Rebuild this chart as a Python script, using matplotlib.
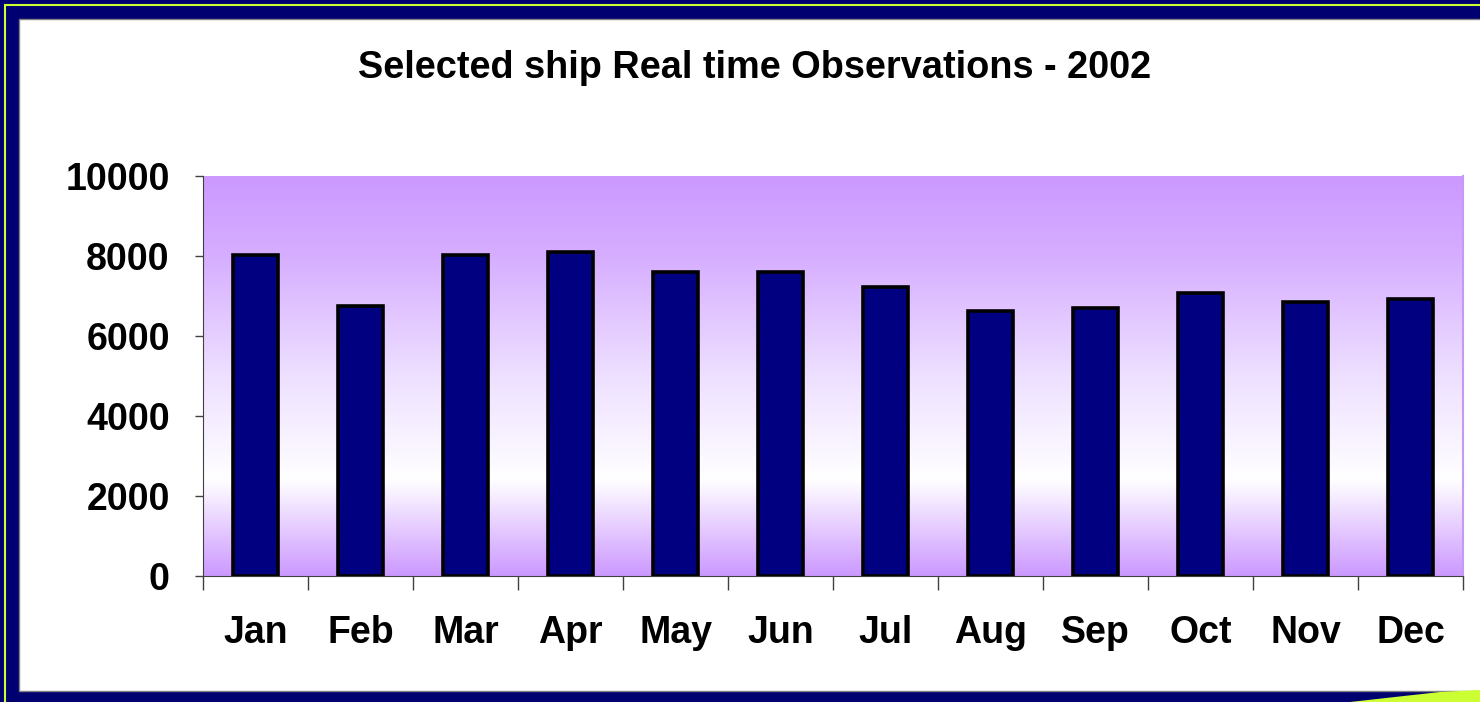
import matplotlib.pyplot as plt
import numpy as np
from matplotlib.colors import LinearSegmentedColormap
from matplotlib.patches import Rectangle, Polygon

months = ['Jan', 'Feb', 'Mar', 'Apr', 'May', 'Jun',
          'Jul', 'Aug', 'Sep', 'Oct', 'Nov', 'Dec']
observations = [8030, 6760, 8030, 8110, 7600, 7590,
                7220, 6620, 6690, 7070, 6840, 6920]
y_ticks = [0, 2000, 4000, 6000, 8000, 10000]

plt.rcParams['font.family'] = ['Liberation Sans', 'DejaVu Sans']
plt.rcParams['font.weight'] = 'bold'

navy = '#000070'
fig = plt.figure(figsize=(14.8, 7.02), dpi=100, facecolor=navy)

# slide-style frame: yellow line, white panel, swoosh at the bottom right
W, H = 1480, 702
fig.patches.append(Rectangle((5 / W, -0.1), 1.2, 1.1 - 5 / H, transform=fig.transFigure,
                             fill=False, edgecolor='#CCFF33', linewidth=1.5, zorder=-3))
fig.patches.append(Rectangle((19 / W, 11 / H), 1.2, 1 - 30 / H, transform=fig.transFigure,
                             facecolor='white', edgecolor='#808080', linewidth=1, zorder=-2))
swoosh = [(1350 / W, 0), (1480 / W, 0), (1480 / W, 12 / H), (1440 / W, 10 / H)]
fig.patches.append(Polygon(swoosh, closed=True, transform=fig.transFigure,
                           facecolor='#CCFF33', edgecolor='none', zorder=-1))

ax = fig.add_axes([203 / W, 126 / H, 1260 / W, 400 / H])
ax.set_facecolor('none')

# purple-white-purple background gradient
cmap = LinearSegmentedColormap.from_list('bg', [
    (0.0, '#CC99FF'), (0.12, '#E6CCFF'), (0.24, '#FFFFFF'),
    (0.5, '#EEE0FF'), (0.8, '#D6AEFF'), (1.0, '#CC99FF')])
grad = np.linspace(0, 1, 256).reshape(-1, 1)
ax.imshow(grad, cmap=cmap, origin='lower', extent=[0, 1, 0, 1],
          transform=ax.transAxes, aspect='auto', zorder=0)

x = np.arange(len(months))
ax.bar(x, observations, width=0.42, color='#000080', edgecolor='black',
       linewidth=2.6, zorder=2)

ax.set_xlim(-0.5, len(months) - 0.5)
ax.set_ylim(0, 10000)
ax.set_yticks(y_ticks)
ax.set_yticklabels([str(v) for v in y_ticks], fontsize=27, fontweight='bold')
ax.set_xticks(x)
ax.set_xticklabels(months, fontsize=27, fontweight='bold')
ax.set_xticks(np.arange(-0.5, len(months)), minor=True)
ax.tick_params(axis='x', which='major', length=0, pad=28)
ax.tick_params(axis='x', which='minor', length=10, width=1, color='#404040', direction='out')
ax.tick_params(axis='y', length=6, width=1, color='#404040', pad=18)

ax.spines['top'].set_visible(False)
ax.spines['right'].set_color('#C49AF5')
ax.spines['right'].set_linewidth(1.5)
ax.spines['left'].set_color('#404040')
ax.spines['bottom'].set_color('#404040')

fig.text(755 / W, 1 - 68 / H, 'Selected ship Real time Observations - 2002',
         ha='center', va='center', fontsize=27.3, fontweight='bold')

fig.savefig('out.png', dpi=100, facecolor=navy)
